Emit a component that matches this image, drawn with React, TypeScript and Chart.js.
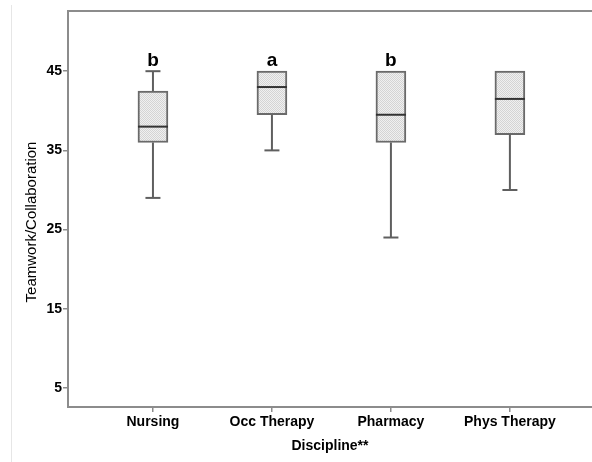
import React, { useEffect, useRef } from 'react';
import { Chart, registerables } from 'chart.js';

Chart.register(...registerables);

const categories = ['Nursing', 'Occ Therapy', 'Pharmacy', 'Phys Therapy'];
const xPositions = [1, 2, 3, 4];
const whiskerLow = [29, 35, 24, 30];
const q1 = [36, 39.5, 36, 37];
const median = [38, 43, 39.5, 41.5];
const q3 = [42.5, 45, 45, 45];
const whiskerHigh = [45, 45, 45, 45];
const groupLetters = ['b', 'a', 'b', ''];
const yTicks = [5, 15, 25, 35, 45];
const yTitle = 'Teamwork/Collaboration';
const xTitle = 'Discipline**';

const FONT = 'Arial, "Liberation Sans", sans-serif';
const AXIS = '#8c8c8c';

export default function App() {
  const ref = useRef<HTMLCanvasElement | null>(null);

  useEffect(() => {
    const canvas = ref.current;
    if (!canvas) return;

    const pc = document.createElement('canvas');
    pc.width = 2;
    pc.height = 2;
    const pctx = pc.getContext('2d')!;
    pctx.fillStyle = '#f0f0f0';
    pctx.fillRect(0, 0, 2, 2);
    pctx.fillStyle = '#d4d4d4';
    pctx.fillRect(0, 0, 1, 1);
    pctx.fillRect(1, 1, 1, 1);
    const pattern = canvas.getContext('2d')!.createPattern(pc, 'repeat');

    const extras = {
      id: 'boxExtras',
      beforeDraw(chart: any) {
        const { ctx } = chart;
        ctx.save();
        ctx.strokeStyle = '#e6e6e6';
        ctx.lineWidth = 1;
        ctx.beginPath();
        ctx.moveTo(11.5, 5);
        ctx.lineTo(11.5, 462);
        ctx.stroke();
        ctx.restore();
      },
      afterDatasetsDraw(chart: any) {
        const { ctx, chartArea } = chart;
        const xs = chart.scales.x;
        const ys = chart.scales.y;
        const meta = chart.getDatasetMeta(0);
        ctx.save();
        ctx.strokeStyle = AXIS;
        ctx.lineWidth = 2;
        ctx.beginPath();
        ctx.moveTo(chartArea.left, chartArea.top);
        ctx.lineTo(chartArea.right, chartArea.top);
        ctx.stroke();
        xPositions.forEach((xv, i) => {
          const x = xs.getPixelForValue(xv);
          const bw = meta.data[i] ? meta.data[i].width : 30;
          const cap = 15;
          ctx.strokeStyle = '#5f5f5f';
          ctx.lineWidth = 2;
          if (whiskerHigh[i] > q3[i]) {
            ctx.beginPath();
            ctx.moveTo(x, ys.getPixelForValue(q3[i]));
            ctx.lineTo(x, ys.getPixelForValue(whiskerHigh[i]));
            ctx.stroke();
            ctx.beginPath();
            ctx.moveTo(x - cap / 2, ys.getPixelForValue(whiskerHigh[i]));
            ctx.lineTo(x + cap / 2, ys.getPixelForValue(whiskerHigh[i]));
            ctx.stroke();
          }
          ctx.beginPath();
          ctx.moveTo(x, ys.getPixelForValue(q1[i]));
          ctx.lineTo(x, ys.getPixelForValue(whiskerLow[i]));
          ctx.stroke();
          ctx.beginPath();
          ctx.moveTo(x - cap / 2, ys.getPixelForValue(whiskerLow[i]));
          ctx.lineTo(x + cap / 2, ys.getPixelForValue(whiskerLow[i]));
          ctx.stroke();
          ctx.strokeStyle = '#333333';
          ctx.beginPath();
          ctx.moveTo(x - bw / 2, ys.getPixelForValue(median[i]));
          ctx.lineTo(x + bw / 2, ys.getPixelForValue(median[i]));
          ctx.stroke();
          if (groupLetters[i]) {
            ctx.fillStyle = '#000';
            ctx.font = `bold 19px ${FONT}`;
            ctx.textAlign = 'center';
            ctx.textBaseline = 'alphabetic';
            ctx.fillText(groupLetters[i], x, ys.getPixelForValue(whiskerHigh[i]) - 5);
          }
        });
        ctx.save();
        ctx.translate(32, 222);
        ctx.rotate(-Math.PI / 2);
        ctx.fillStyle = '#000';
        ctx.font = `15px ${FONT}`;
        ctx.textAlign = 'center';
        ctx.textBaseline = 'middle';
        ctx.fillText(yTitle, 0, 0);
        ctx.restore();
        ctx.restore();
      },
    };

    const chart = new Chart(canvas, {
      type: 'bar',
      data: {
        datasets: [
          {
            data: xPositions.map((x, i) => ({ x, y: [q1[i], q3[i]] })) as any,
            backgroundColor: pattern as any,
            borderColor: '#6a6a6a',
            borderWidth: 2,
            borderSkipped: false,
            barThickness: 30,
            grouped: false,
          } as any,
        ],
      },
      options: {
        animation: false,
        responsive: true,
        maintainAspectRatio: false,
        layout: { padding: { top: 11, right: 0, left: 0, bottom: 0 } },
        plugins: {
          legend: { display: false },
          tooltip: { enabled: false },
        },
        scales: {
          x: {
            type: 'linear',
            offset: false,
            min: 0.286,
            max: 4.69,
            afterBuildTicks: (s: any) => {
              s.ticks = xPositions.map((v) => ({ value: v }));
            },
            afterFit: (s: any) => {
              s.height = 55;
            },
            ticks: {
              callback: (_v: any, idx: number) => categories[idx],
              color: '#000',
              font: { family: FONT, size: 14, weight: 'bold' },
              padding: 2,
              maxRotation: 0,
              autoSkip: false,
            },
            grid: {
              display: true,
              offset: false,
              drawOnChartArea: false,
              drawTicks: true,
              tickLength: 5,
              color: AXIS,
              lineWidth: 1.5,
            },
            border: { display: true, color: AXIS, width: 2 },
            title: {
              display: true,
              text: xTitle,
              color: '#000',
              font: { family: FONT, size: 14, weight: 'bold' },
              padding: { top: 0, bottom: 7 },
            },
          },
          y: {
            type: 'linear',
            min: 2.6,
            max: 52.6,
            afterBuildTicks: (s: any) => {
              s.ticks = yTicks.map((v) => ({ value: v }));
            },
            afterFit: (s: any) => {
              s.width = 68;
            },
            ticks: {
              color: '#000',
              font: { family: FONT, size: 14, weight: 'bold' },
              padding: 1,
            },
            grid: {
              display: true,
              drawOnChartArea: false,
              drawTicks: true,
              tickLength: 5,
              color: AXIS,
              lineWidth: 1.5,
            },
            border: { display: true, color: AXIS, width: 2 },
          },
        },
      } as any,
      plugins: [extras],
    });

    return () => chart.destroy();
  }, []);

  return (
    <div style={{ position: 'fixed', left: 0, top: 0, width: 592, height: 462, background: '#fff' }}>
      <canvas ref={ref} />
    </div>
  );
}
